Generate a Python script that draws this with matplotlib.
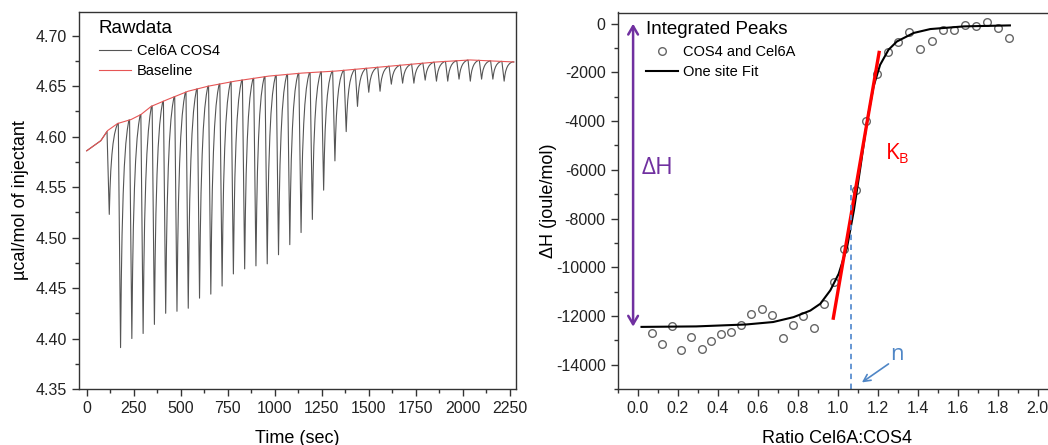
import numpy as np
import matplotlib
matplotlib.use("Agg")
import matplotlib.pyplot as plt
from matplotlib.ticker import MultipleLocator, FormatStrFormatter

plt.rcParams['font.family'] = ['Liberation Sans', 'DejaVu Sans']
plt.rcParams['axes.unicode_minus'] = False

# ---- raw ITC trace (left) ----
# baseline (time in s, ucal/mol)
base_t = [0, 75, 111, 164, 236, 289, 343, 432, 539, 646, 789, 968,
          1146, 1325, 1503, 1682, 1861, 2039, 2271]
base_v = [4.586, 4.596, 4.606, 4.613, 4.617, 4.622, 4.630, 4.637, 4.645,
          4.650, 4.655, 4.660, 4.663, 4.665, 4.668, 4.671, 4.674, 4.676, 4.674]

# time of each injection peak minimum and the value reached
inj_t = [120, 180, 240, 300, 360, 420, 480, 540, 600, 660, 720, 780,
         840, 900, 960, 1020, 1080, 1140, 1200, 1260, 1320, 1380, 1440, 1500,
         1560, 1620, 1680, 1740, 1800, 1860, 1920, 1980, 2040, 2100, 2160, 2220]
inj_min = [4.523, 4.391, 4.400, 4.405, 4.414, 4.425, 4.427, 4.430, 4.440,
           4.444, 4.452, 4.464, 4.469, 4.472, 4.474, 4.483, 4.493, 4.505,
           4.518, 4.547, 4.576, 4.605, 4.630, 4.644, 4.645, 4.652, 4.653,
           4.653, 4.656, 4.655, 4.655, 4.657, 4.655, 4.657, 4.657, 4.655]

# shape of one peak: offset (s) vs fraction of depth
peak_dt = [-12, -6, 0, 4, 8, 14, 20, 28, 36, 44]
peak_frac = [0, 0.5, 1.0, 0.7, 0.5, 0.32, 0.2, 0.1, 0.04, 0]

# ---- integrated peaks (right) ----
ratio = [0.072, 0.120, 0.171, 0.219, 0.269, 0.320, 0.368, 0.418, 0.469,
         0.519, 0.569, 0.621, 0.672, 0.725, 0.775, 0.828, 0.880, 0.932,
         0.981, 1.034, 1.091, 1.143, 1.197, 1.250, 1.304, 1.359, 1.414,
         1.470, 1.525, 1.580, 1.635, 1.690, 1.745, 1.802, 1.858]
dH = [-12710, -13160, -12420, -13400, -12870, -13350, -13040, -12740,
      -12640, -12390, -11940, -11710, -11980, -12900, -12380, -12020,
      -12490, -11500, -10610, -9240, -6810, -3980, -2060, -1180, -770,
      -360, -1040, -690, -270, -250, -40, -80, 50, -190, -590]

fit_x = [0.02, 0.293, 0.544, 0.678, 0.78, 0.864, 0.914, 0.964, 1.006, 1.048,
         1.082, 1.115, 1.146, 1.18, 1.213, 1.255, 1.297, 1.381, 1.464, 1.632,
         1.862]
fit_y = [-12450, -12430, -12350, -12250, -12050, -11780, -11500, -10950,
         -10270, -9170, -7660, -5870, -4090, -2580, -1690, -1070, -730, -380,
         -220, -110, -70]

tangent_x = [0.979, 1.208]
tangent_y = [-12090, -1180]
n_ratio = 1.068
dH_top, dH_bottom = 0, -12440

# raw trace: baseline, with each injection peak cut into it
pre = [t for t in base_t if t < inj_t[0] + peak_dt[0]]
post = [t for t in base_t if t > inj_t[-1] + peak_dt[-1]]
tr_t = list(pre)
drop = [0.0] * len(pre)
for tk, vmin in zip(inj_t, inj_min):
    depth = np.interp(tk, base_t, base_v) - vmin
    for dt, f in zip(peak_dt, peak_frac):
        tr_t.append(tk + dt)
        drop.append(depth * f)
tr_t += post
drop += [0.0] * len(post)
tr_t = np.array(tr_t, dtype=float)
tr_v = np.interp(tr_t, base_t, base_v) - np.array(drop)

fig = plt.figure(figsize=(10.48, 4.45), dpi=100)
W, H = 1048, 445
axL = fig.add_axes([79 / W, 56 / H, 437 / W, 377.5 / H])
axR = fig.add_axes([617.5 / W, 56 / H, 440 / W, 376.5 / H])

spine_c = '#333333'
for ax in (axL, axR):
    for s in ax.spines.values():
        s.set_color(spine_c)
        s.set_linewidth(1.0)
    ax.tick_params(which='both', direction='out', color=spine_c,
                   labelsize=11.5, labelcolor='#222222', width=1.0)
    ax.tick_params(which='major', length=5)
    ax.tick_params(which='minor', length=3)
    ax.tick_params(top=False, right=False)

# left panel
axL.plot(tr_t, tr_v, color='#555555', lw=0.8, label='Cel6A COS4')
axL.plot(base_t, base_v, color='#e65555', lw=0.8, label='Baseline')
axL.set_xlim(-41, 2283)
axL.set_ylim(4.35, 4.724)
axL.xaxis.set_major_locator(MultipleLocator(250))
axL.xaxis.set_minor_locator(MultipleLocator(125))
axL.yaxis.set_major_locator(MultipleLocator(0.05))
axL.yaxis.set_minor_locator(MultipleLocator(0.025))
axL.yaxis.set_major_formatter(FormatStrFormatter('%.2f'))
axL.set_xlabel('Time (sec)', fontsize=13, labelpad=10)
axL.set_ylabel('µcal/mol of injectant', fontsize=13, labelpad=5)
axL.legend(loc='upper left', frameon=False, title='Rawdata',
           title_fontsize=13.5, fontsize=10.5, alignment='left',
           handlelength=2.2, handletextpad=0.4, labelspacing=0.45,
           borderaxespad=0.2, bbox_to_anchor=(0.025, 1.0))

# right panel
axR.plot(ratio, dH, 'o', ms=5.5, mfc='none', mec='#666666', mew=1.0,
         label='COS4 and Cel6A')
axR.plot(fit_x, fit_y, color='black', lw=1.5, label='One site Fit')
axR.plot(tangent_x, tangent_y, color='#ff0000', lw=2.4)
axR.plot([n_ratio, n_ratio], [-6630, -15000], color='#5b8fd0', lw=1.3,
         ls=(0, (3, 2.5)))
axR.annotate('', xy=(-0.022, dH_top), xytext=(-0.022, dH_bottom),
             arrowprops=dict(arrowstyle='<->,head_length=0.6,head_width=0.35',
                             color='#7030a0', lw=1.8, shrinkA=0, shrinkB=0))
axR.text(0.022, -5940, 'ΔH', color='#7030a0', fontsize=17.5,
         family='Open Sans', va='center', ha='left')
axR.text(1.242, -5330, 'K', color='#ff0000', fontsize=16,
         family='Open Sans', va='center', ha='left')
axR.text(1.305, -5560, 'B', color='#ff0000', fontsize=10.5,
         family='Open Sans', va='center', ha='left')
axR.text(1.262, -13580, 'n', color='#4f86c6', fontsize=16,
         family='Open Sans', va='center', ha='left')
axR.annotate('', xy=(1.122, -14730), xytext=(1.255, -13970),
             arrowprops=dict(arrowstyle='->,head_length=0.5,head_width=0.25',
                             color='#4f86c6', lw=1.2, shrinkA=0, shrinkB=0))
axR.set_xlim(-0.1, 2.1)
axR.set_ylim(-15000, 460)
axR.xaxis.set_major_locator(MultipleLocator(0.2))
axR.xaxis.set_minor_locator(MultipleLocator(0.1))
axR.yaxis.set_major_locator(MultipleLocator(2000))
axR.yaxis.set_minor_locator(MultipleLocator(1000))
axR.xaxis.set_major_formatter(FormatStrFormatter('%.1f'))
axR.set_xlabel('Ratio Cel6A:COS4', fontsize=13, labelpad=10)
axR.set_ylabel('ΔH (joule/mol)', fontsize=13, labelpad=-1)
axR.legend(loc='upper left', frameon=False, title='Integrated Peaks',
           title_fontsize=13.5, fontsize=10.5, alignment='left',
           handlelength=2.2, handletextpad=0.3, labelspacing=0.45,
           numpoints=1, borderaxespad=0.2, bbox_to_anchor=(0.045, 1.0))

fig.savefig('out.png', dpi=100)
